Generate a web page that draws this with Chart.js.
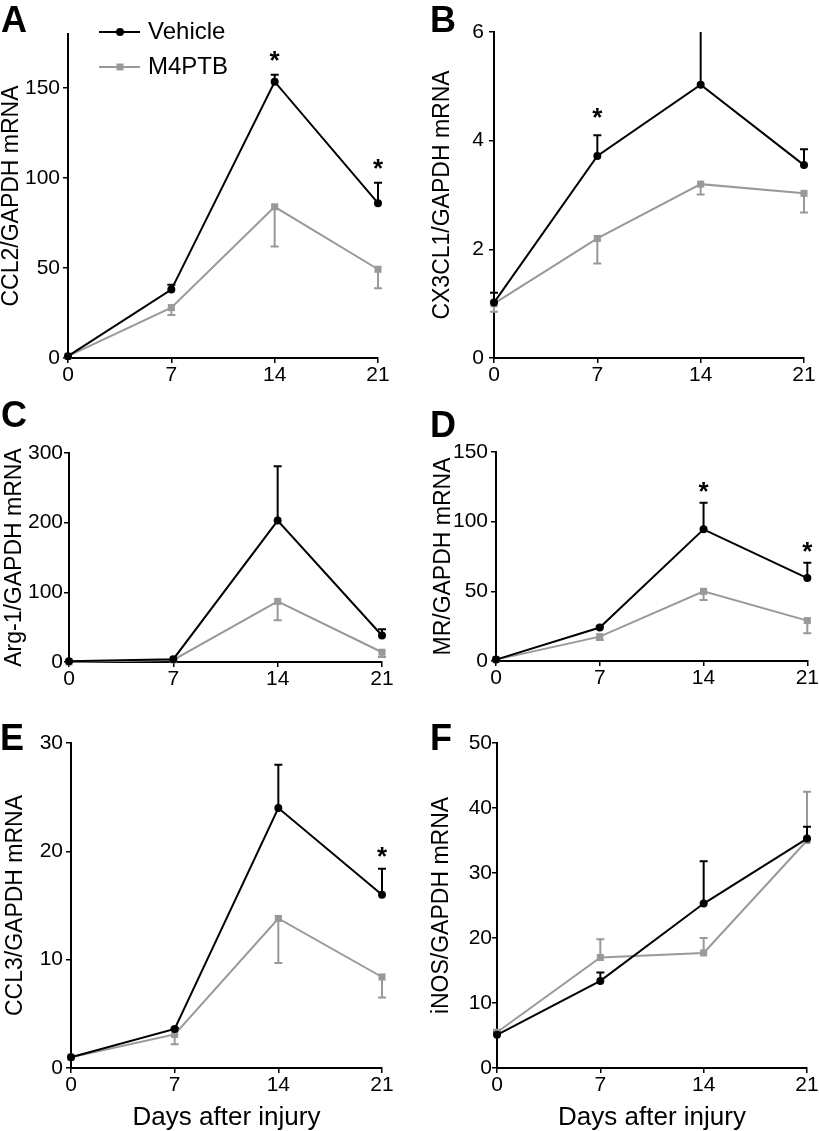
<!DOCTYPE html>
<html><head><meta charset="utf-8">
<script src="https://cdn.jsdelivr.net/npm/chart.js@4.4.1/dist/chart.umd.min.js"></script>
<style>
html,body{margin:0;padding:0;background:#fff;}
body{width:819px;height:1131px;position:relative;overflow:hidden;}
canvas{position:absolute;display:block;}
</style></head><body>
<canvas id="cA"></canvas><canvas id="cB"></canvas>
<canvas id="cC"></canvas><canvas id="cD"></canvas>
<canvas id="cE"></canvas><canvas id="cF"></canvas>
<script>
// ---------------- DATA ----------------
const days = [0, 7, 14, 21];
const xTicks = [0, 7, 14, 21];
const seriesNames = ['Vehicle', 'M4PTB'];
const xTitle = 'Days after injury';

// A: CCL2
const ccl2Vehicle = [1, 38, 153.5, 86];
const ccl2VehicleErr = [0, 2.7, 3.8, 11.4];
const ccl2M4ptb = [1, 28, 84, 49.3];
const ccl2M4ptbErr = [0, 4.1, 22, 10.6];
const ccl2Ticks = [0, 50, 100, 150];
const ccl2Stars = [14, 21];

// B: CX3CL1
const cx3cl1Vehicle = [1.02, 3.72, 5.03, 3.55];
const cx3cl1VehicleErr = [0.18, 0.38, 1.5, 0.29];
const cx3cl1M4ptb = [1.0, 2.2, 3.2, 3.03];
const cx3cl1M4ptbErr = [0.15, 0.46, 0.19, 0.35];
const cx3cl1Ticks = [0, 2, 4, 6];
const cx3cl1Stars = [7];

// C: Arg-1
const arg1Vehicle = [1, 4, 203, 38];
const arg1VehicleErr = [0, 0, 78, 9];
const arg1M4ptb = [0, 3, 87, 14];
const arg1M4ptbErr = [0, 0, 27, 7];
const arg1Ticks = [0, 100, 200, 300];
const arg1Stars = [];

// D: MR
const mrVehicle = [1, 24, 94.5, 59.5];
const mrVehicleErr = [0, 1, 19, 11];
const mrM4ptb = [1, 17.5, 50, 29];
const mrM4ptbErr = [0, 2.5, 6.3, 9];
const mrTicks = [0, 50, 100, 150];
const mrStars = [14, 21];

// E: CCL3
const ccl3Vehicle = [1, 3.6, 24, 16];
const ccl3VehicleErr = [0, 0.1, 4, 2.4];
const ccl3M4ptb = [1, 3.1, 13.8, 8.4];
const ccl3M4ptbErr = [0, 0.9, 4.1, 1.9];
const ccl3Ticks = [0, 10, 20, 30];
const ccl3Stars = [21];

// F: iNOS
const inosVehicle = [5.1, 13.4, 25.3, 35.3];
const inosVehicleErr = [0.4, 1.3, 6.5, 1.8];
const inosM4ptb = [5.5, 17, 17.7, 35];
const inosM4ptbErr = [0.3, 2.8, 2.3, 7.5];
const inosTicks = [0, 10, 20, 30, 40, 50];
const inosStars = [];

// ---------------- STYLE / LAYOUT ----------------
const FONT = '"Liberation Sans", Arial, Helvetica, sans-serif';
const BLACK = '#000000';
const GRAY = '#999999';

const panels = [
  {id:'cA', letter:'A', yTitle:'CCL2/GAPDH mRNA', yMax:180, ticks:ccl2Ticks, veh:ccl2Vehicle, vehErr:ccl2VehicleErr, m:ccl2M4ptb, mErr:ccl2M4ptbErr, mDir:-1, stars:ccl2Stars,
   geo:{left:0, top:0, w:405, h:395, yW:68, xH:30, padT:34, padR:27, padB:7, titlePad:0, tickPad:3, starOff:19, lx:1, ly:32}, legend:true, xTitle:false},
  {id:'cB', letter:'B', yTitle:'CX3CL1/GAPDH mRNA', yMax:6, ticks:cx3cl1Ticks, veh:cx3cl1Vehicle, vehErr:cx3cl1VehicleErr, m:cx3cl1M4ptb, mErr:cx3cl1M4ptbErr, mDir:-1, stars:cx3cl1Stars,
   geo:{left:415, top:0, w:404, h:395, yW:79, xH:30, padT:32, padR:15, padB:7, titlePad:16, tickPad:5, starOff:22, lx:430, ly:32}, legend:false, xTitle:false},
  {id:'cC', letter:'C', yTitle:'Arg-1/GAPDH mRNA', yMax:300, ticks:arg1Ticks, veh:arg1Vehicle, vehErr:arg1VehicleErr, m:arg1M4ptb, mErr:arg1M4ptbErr, mDir:-1, stars:arg1Stars,
   geo:{left:0, top:395, w:405, h:305, yW:69, xH:30, padT:58, padR:23, padB:8, titlePad:3, tickPad:1, starOff:17, lx:1, ly:427}, legend:false, xTitle:false},
  {id:'cD', letter:'D', yTitle:'MR/GAPDH mRNA', yMax:150, ticks:mrTicks, veh:mrVehicle, vehErr:mrVehicleErr, m:mrM4ptb, mErr:mrM4ptbErr, mDir:-1, stars:mrStars,
   geo:{left:415, top:395, w:404, h:305, yW:81, xH:30, padT:57, padR:10, padB:9, titlePad:17, tickPad:3, starOff:16, lx:430, ly:437}, legend:false, xTitle:false},
  {id:'cE', letter:'E', yTitle:'CCL3/GAPDH mRNA', yMax:30, ticks:ccl3Ticks, veh:ccl3Vehicle, vehErr:ccl3VehicleErr, m:ccl3M4ptb, mErr:ccl3M4ptbErr, mDir:-1, stars:ccl3Stars,
   geo:{left:0, top:700, w:405, h:431, yW:71, xH:63, padT:43, padR:23, padB:0, titlePad:4, tickPad:3, starOff:17, lx:0, ly:750}, legend:false, xTitle:true},
  {id:'cF', letter:'F', yTitle:'iNOS/GAPDH mRNA', yMax:50, ticks:inosTicks, veh:inosVehicle, vehErr:inosVehicleErr, m:inosM4ptb, mErr:inosM4ptbErr, mDir:1, stars:inosStars,
   geo:{left:415, top:700, w:404, h:431, yW:82, xH:63, padT:43, padR:12, padB:0, titlePad:15, tickPad:0, starOff:17, lx:430, ly:750}, legend:false, xTitle:true}
];

const decor = {
  id: 'decor',
  beforeDatasetsDraw(chart) {
    const ctx = chart.ctx, xs = chart.scales.x, ys = chart.scales.y;
    ctx.save();
    for (let k = chart.data.datasets.length - 1; k >= 0; k--) {
      const ds = chart.data.datasets[k];
      ds.data.forEach((pt, i) => {
        const e = ds.errors[i];
        if (!e) return;
        const x = xs.getPixelForValue(pt.x);
        const y0 = ys.getPixelForValue(pt.y);
        let v1 = pt.y + ds.errDir * e;
        const clipped = v1 > ys.max;
        if (clipped) v1 = ys.max;
        const y1 = ys.getPixelForValue(v1);
        ctx.strokeStyle = ds.borderColor;
        ctx.lineWidth = 2;
        ctx.beginPath();
        ctx.moveTo(x, y0); ctx.lineTo(x, y1);
        if (!clipped) { ctx.moveTo(x - 4, y1); ctx.lineTo(x + 4, y1); }
        ctx.stroke();
      });
    }
    ctx.restore();
  },
  afterDraw(chart) {
    const p = chart.options.plugins.decor.panel;
    const g = p.geo;
    const ctx = chart.ctx, xs = chart.scales.x, ys = chart.scales.y;
    ctx.save();
    // panel letter
    ctx.fillStyle = BLACK;
    ctx.font = 'bold 36px ' + FONT;
    ctx.textAlign = 'left';
    ctx.textBaseline = 'alphabetic';
    ctx.fillText(p.letter, g.lx - g.left, g.ly - g.top);
    // stars
    ctx.font = 'bold 26px ' + FONT;
    ctx.textAlign = 'center';
    const m = ctx.measureText('*');
    const asc = m.actualBoundingBoxAscent, desc = m.actualBoundingBoxDescent;
    p.stars.forEach(d => {
      const i = days.indexOf(d);
      const top = Math.min(p.veh[i] + p.vehErr[i], ys.max);
      const yc = ys.getPixelForValue(top) - g.starOff;
      ctx.fillText('*', xs.getPixelForValue(d), yc + (asc - desc) / 2);
    });
    // legend
    if (p.legend) {
      const items = [
        {name: seriesNames[0], color: BLACK, y: 32, style: 'circle'},
        {name: seriesNames[1], color: GRAY, y: 67, style: 'rect'}
      ];
      items.forEach(it => {
        ctx.strokeStyle = it.color; ctx.fillStyle = it.color; ctx.lineWidth = 2;
        ctx.beginPath(); ctx.moveTo(99, it.y); ctx.lineTo(140, it.y); ctx.stroke();
        if (it.style === 'circle') { ctx.beginPath(); ctx.arc(120, it.y, 4, 0, Math.PI * 2); ctx.fill(); }
        else { ctx.fillRect(116.5, it.y - 3.5, 7, 7); }
        ctx.fillStyle = BLACK;
        ctx.font = '24px ' + FONT;
        ctx.textAlign = 'left'; ctx.textBaseline = 'middle';
        ctx.fillText(it.name, 148, it.y);
      });
    }
    ctx.restore();
  }
};

function makePanel(p) {
  const g = p.geo;
  const c = document.getElementById(p.id);
  c.width = g.w; c.height = g.h;
  c.style.left = g.left + 'px'; c.style.top = g.top + 'px';
  c.style.width = g.w + 'px'; c.style.height = g.h + 'px';
  const tickFont = {family: FONT, size: 21, lineHeight: 1.2};
  new Chart(c, {
    type: 'line',
    data: {
      datasets: [
        {label: seriesNames[0], data: days.map((d, i) => ({x: d, y: p.veh[i]})),
         borderColor: BLACK, backgroundColor: BLACK, borderWidth: 2, pointStyle: 'circle',
         pointRadius: 4, pointBorderWidth: 0, pointHoverRadius: 4, clip: false, tension: 0,
         errors: p.vehErr, errDir: 1},
        {label: seriesNames[1], data: days.map((d, i) => ({x: d, y: p.m[i]})),
         borderColor: GRAY, backgroundColor: GRAY, borderWidth: 2, pointStyle: 'rect',
         pointRadius: 5, pointBorderWidth: 0, pointHoverRadius: 5, clip: false, tension: 0,
         errors: p.mErr, errDir: p.mDir}
      ]
    },
    options: {
      responsive: false, animation: false, devicePixelRatio: 1,
      events: [],
      layout: {padding: {left: 0, top: g.padT, right: g.padR, bottom: g.padB}},
      plugins: {legend: {display: false}, tooltip: {enabled: false}, decor: {panel: p}},
      scales: {
        x: {
          type: 'linear', min: 0, max: 21,
          afterBuildTicks: s => { s.ticks = xTicks.map(v => ({value: v})); },
          afterFit: s => { s.height = g.xH; },
          grid: {drawOnChartArea: false, drawTicks: true, tickLength: 5, color: BLACK, lineWidth: 1.5},
          border: {display: true, color: BLACK, width: 2},
          ticks: {color: BLACK, font: tickFont, padding: 0, maxRotation: 0, autoSkip: false},
          title: {display: p.xTitle, text: xTitle, color: BLACK, font: {family: FONT, size: 26, lineHeight: 1}, padding: {top: 0, bottom: 0}}
        },
        y: {
          type: 'linear', min: 0, max: p.yMax,
          afterBuildTicks: s => { s.ticks = p.ticks.map(v => ({value: v})); },
          afterFit: s => { s.width = g.yW; },
          grid: {drawOnChartArea: false, drawTicks: true, tickLength: 5, color: BLACK, lineWidth: 1.5},
          border: {display: true, color: BLACK, width: 2},
          ticks: {color: BLACK, font: tickFont, padding: g.tickPad},
          title: {display: true, text: p.yTitle, color: BLACK, font: {family: FONT, size: 23, lineHeight: 1}, padding: {top: g.titlePad, bottom: 0}}
        }
      }
    },
    plugins: [decor]
  });
}
panels.forEach(makePanel);
</script>
</body></html>
